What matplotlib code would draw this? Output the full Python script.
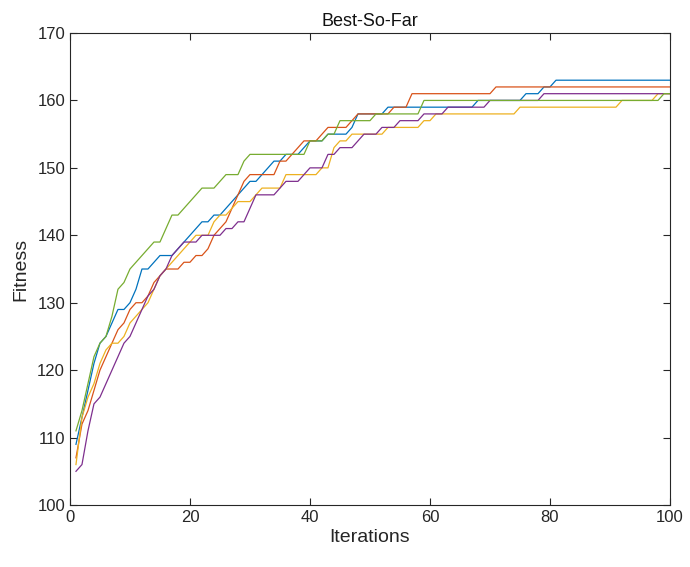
import numpy as np
import matplotlib
matplotlib.use("Agg")
import matplotlib.pyplot as plt

iterations = np.arange(1, 101)

run_blue = ([109, 113, 117, 121, 124, 125, 127, 129, 129, 130, 132, 135, 135, 136, 137, 137,
             137, 138, 139, 140, 141, 142, 142, 143, 143, 144, 145, 146, 147, 148, 148, 149, 150, 151, 151, 152,
             152, 152, 153, 154, 154, 154, 155, 155, 155, 155, 156, 158, 158, 158, 158, 158]
            + [159] * 15 + [160] * 8 + [161] * 3 + [162] * 2 + [163] * 20)

run_orange = ([107, 112, 114, 117, 120, 122, 124, 126, 127, 129, 130, 130, 131, 133, 134, 135, 135, 135,
               136, 136, 137, 137, 138, 140, 141, 142, 144, 146, 148]
              + [149] * 5
              + [151, 151, 152, 153, 154, 154, 154, 155, 156, 156, 156, 156, 157]
              + [158] * 6 + [159] * 3 + [161] * 14 + [162] * 30)

run_yellow = ([106, 113, 116, 118, 121, 123, 124, 124, 125, 127, 128, 129, 130, 132, 134,
               135, 136, 137, 138, 139, 140, 140, 140, 142, 143, 143, 144, 145, 145, 145, 146, 147, 147, 147, 147]
              + [149] * 6 + [150, 150]
              + [153, 154, 154, 155, 155, 155, 155, 155, 155]
              + [156] * 6 + [157] * 2 + [158] * 14 + [159] * 17 + [160] * 6 + [161] * 3)

run_purple = ([105, 106, 111, 115, 116, 118, 120, 122, 124, 125, 127, 129, 131, 132, 134, 135, 137,
               138, 139, 139, 139, 140, 140, 140, 140, 141, 141, 142, 142,
               144, 146, 146, 146, 146, 147,
               148, 148, 148, 149, 150, 150, 150, 152, 152, 153, 153, 153, 154]
              + [155] * 3 + [156] * 3 + [157] * 4 + [158] * 4 + [159] * 7 + [160] * 9 + [161] * 22)

run_green = ([111, 114, 118, 122, 124, 125, 128, 132, 133, 135, 136, 137, 138, 139, 139, 141,
              143, 143, 144, 145, 146, 147, 147, 147, 148, 149, 149, 149, 151]
             + [152] * 10
             + [154, 154, 154, 155, 155, 157, 157, 157, 157, 157, 157]
             + [158] * 8 + [160] * 40 + [161] * 2)

runs = [run_blue, run_orange, run_yellow, run_purple, run_green]
colors = ['#0072BD', '#D95319', '#EDB120', '#7E2F8E', '#77AC30']

plt.rcParams['font.family'] = ['Liberation Sans', 'DejaVu Sans']

fig = plt.figure(figsize=(6.9, 5.67), dpi=100)
ax = fig.add_axes([0.1014, 0.1093, 0.8696, 0.8325])

for run, c in zip(runs, colors):
    ax.plot(iterations, run, color=c, lw=0.9)

ax.set_xlim(0, 100)
ax.set_ylim(100, 170)
ax.set_xticks(np.arange(0, 101, 20))
ax.set_yticks(np.arange(100, 171, 10))

axis_col = '#262626'
for s in ax.spines.values():
    s.set_color(axis_col)
    s.set_linewidth(0.8)
ax.tick_params(direction='in', top=True, right=True, length=5, width=0.8,
               colors=axis_col, labelsize=12)

ax.set_title('Best-So-Far', fontsize=13, color='#111111', pad=5)
ax.set_xlabel('Iterations', fontsize=14, color=axis_col, labelpad=3)
ax.set_ylabel('Fitness', fontsize=14, color=axis_col, labelpad=6)

fig.savefig('out.png', dpi=100)
